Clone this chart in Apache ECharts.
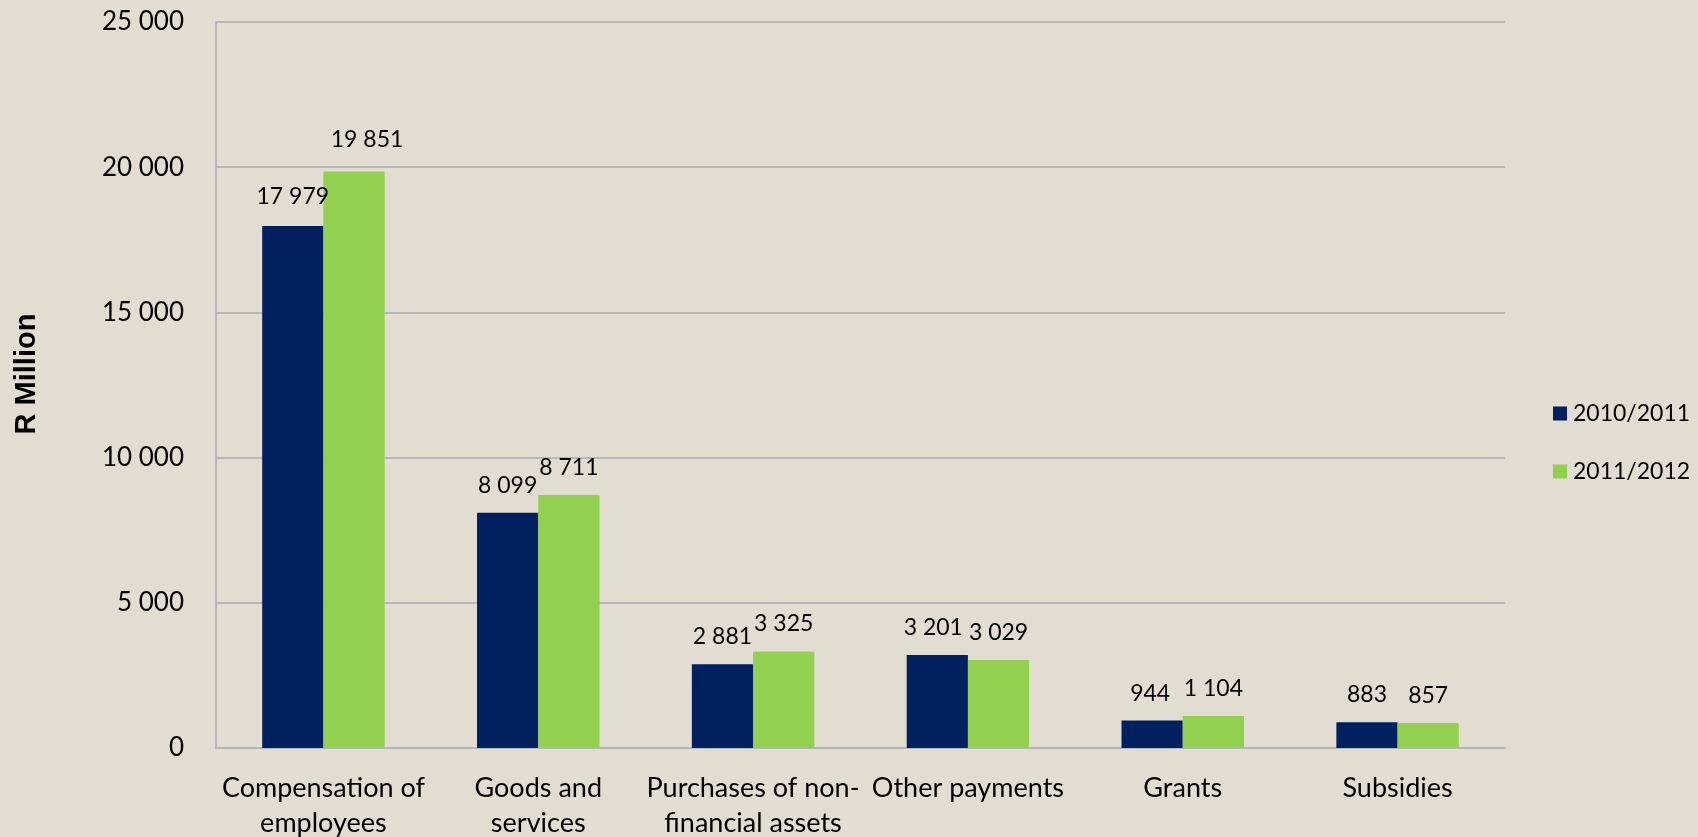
<!DOCTYPE html>
<html>
<head>
<meta charset="utf-8">
<script src="https://cdn.jsdelivr.net/npm/echarts@6/dist/echarts.min.js"></script>
<style>
  html, body { margin: 0; padding: 0; background: #e3dcd0; }
  #chart { width: 1698px; height: 837px; }
</style>
</head>
<body>
<div id="chart"></div>
<script>
const categories = [
  'Compensation of\nemployees',
  'Goods and\nservices',
  'Purchases of non-\nfinancial assets',
  'Other payments',
  'Grants',
  'Subsidies'
];
const seriesNames = ['2010/2011', '2011/2012'];
const values2010 = [17979, 8099, 2881, 3201, 944, 883];
const values2011 = [19851, 8711, 3325, 3029, 1104, 857];

// small label nudges seen in the original
const offsets2010 = [[0, -2], [0, 0], [0, 0], [-4, 0], [-2, 0], [0, 0]];
const offsets2011 = [[13, -4], [0, 0], [0, 0], [0, 0], [0, 0], [0, 0]];

const fmt = (v) => String(v).replace(/\B(?=(\d{3})+(?!\d))/g, ' ');
const font = 'Lato, "Open Sans", sans-serif';

const chart = echarts.init(document.getElementById('chart'));

const makeData = (vals, offs) => vals.map((v, i) => ({
  value: v,
  label: { offset: offs[i] }
}));

const barLabel = {
  show: true,
  position: 'top',
  distance: 16,
  color: '#000',
  fontSize: 23,
  fontFamily: font,
  formatter: (p) => fmt(p.value)
};

const option = {
  backgroundColor: '#e3dcd0',
  textStyle: { fontFamily: font },
  grid: {
    left: 216,
    right: 193,
    top: 22,
    bottom: 89,
    containLabel: false,
    outerBoundsMode: 'none'
  },
  legend: {
    orient: 'vertical',
    left: 1548,
    top: 397,
    itemWidth: 14,
    itemHeight: 14,
    itemGap: 35,
    icon: 'rect',
    textStyle: { fontSize: 23, color: '#000', fontFamily: font, padding: [0, 0, 0, 1] },
    data: seriesNames
  },
  graphic: [{
    type: 'text',
    x: 27,
    y: 374,
    rotation: Math.PI / 2,
    style: {
      text: 'R Million',
      font: 'bold 29px "Liberation Sans", Arial, sans-serif',
      fill: '#000',
      align: 'center',
      verticalAlign: 'middle'
    }
  }],
  xAxis: {
    type: 'category',
    data: categories,
    axisTick: { show: false },
    axisLine: { lineStyle: { color: '#b5b7bb', width: 2 } },
    axisLabel: {
      color: '#000',
      fontSize: 27,
      lineHeight: 35,
      margin: 23,
      interval: 0,
      fontFamily: font
    }
  },
  yAxis: {
    type: 'value',
    min: 0,
    max: 25000,
    interval: 5000,
    axisLine: { show: true, lineStyle: { color: '#b5b7bb', width: 2 } },
    axisTick: { show: false },
    splitLine: { lineStyle: { color: '#b5b7bb', width: 2 } },
    axisLabel: {
      color: '#000',
      fontSize: 26,
      margin: 32,
      fontFamily: font,
      formatter: (v) => fmt(v)
    }
  },
  series: [
    {
      name: seriesNames[0],
      type: 'bar',
      data: makeData(values2010, offsets2010),
      itemStyle: { color: '#002060' },
      barGap: '0%',
      barCategoryGap: '43%',
      label: barLabel
    },
    {
      name: seriesNames[1],
      type: 'bar',
      data: makeData(values2011, offsets2011),
      itemStyle: { color: '#92d050' },
      barGap: '0%',
      barCategoryGap: '43%',
      label: barLabel
    }
  ]
};

chart.setOption(option);
window.onresize = function () {
  chart.resize();
};
</script>
</body>
</html>
